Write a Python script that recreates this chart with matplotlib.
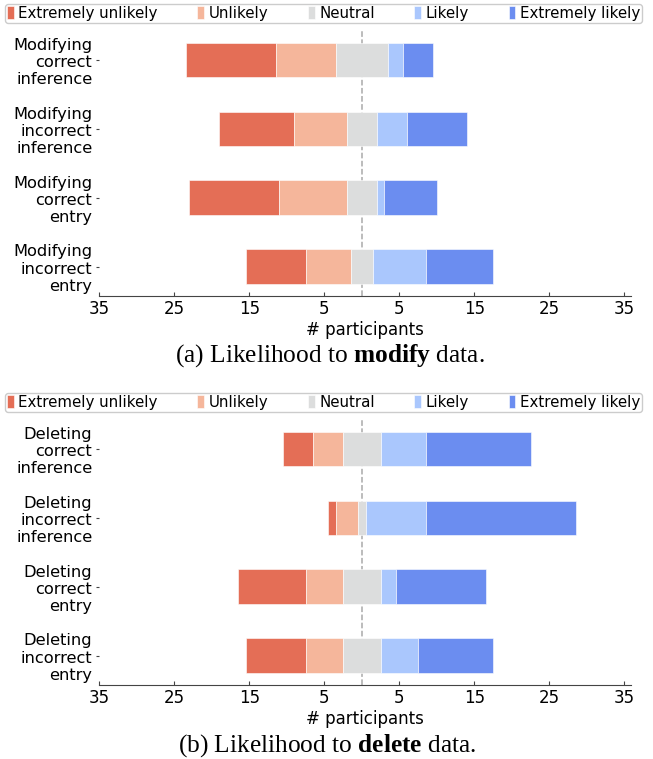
import numpy as np
import matplotlib.pyplot as plt

plt.rcParams['mathtext.fontset'] = 'custom'
plt.rcParams['mathtext.rm'] = 'Liberation Serif'
plt.rcParams['mathtext.bf'] = 'Liberation Serif:bold'

levels = ['Extremely unlikely', 'Unlikely', 'Neutral', 'Likely', 'Extremely likely']
colors = ['#e46e56', '#f5b69b', '#dcdddd', '#aac7fd', '#6b8df0']

# panel (a): modify
modify_labels = ['Modifying\ncorrect\ninference', 'Modifying\nincorrect\ninference',
                 'Modifying\ncorrect\nentry', 'Modifying\nincorrect\nentry']
modify_ext_unlikely = [12, 10, 12, 8]
modify_unlikely = [8, 7, 9, 6]
modify_neutral = [7, 4, 4, 3]
modify_likely = [2, 4, 1, 7]
modify_ext_likely = [4, 8, 7, 9]

# panel (b): delete
delete_labels = ['Deleting\ncorrect\ninference', 'Deleting\nincorrect\ninference',
                 'Deleting\ncorrect\nentry', 'Deleting\nincorrect\nentry']
delete_ext_unlikely = [4, 1, 9, 8]
delete_unlikely = [4, 3, 5, 5]
delete_neutral = [5, 1, 5, 5]
delete_likely = [6, 8, 2, 5]
delete_ext_likely = [14, 20, 12, 10]

ticks = [-35, -25, -15, -5, 5, 15, 25, 35]


def likert(ax, labels, series):
    counts = np.array(series, dtype=float).T  # rows x levels
    y = np.arange(len(labels))
    start = -(counts[:, 0] + counts[:, 1] + counts[:, 2] / 2)
    for i in range(counts.shape[1]):
        ax.barh(y, counts[:, i], left=start, height=0.5, color=colors[i],
                edgecolor='white', linewidth=0.4, label=levels[i])
        start = start + counts[:, i]
    ax.axvline(0, color='#aaaaaa', linestyle='--', linewidth=1.1, zorder=0)
    ax.set_yticks(y)
    ax.set_yticklabels(labels, fontsize=11.7, ha='right', linespacing=1.2)
    ax.invert_yaxis()
    ax.set_xlim(-35, 35.85)
    ax.set_xticks(ticks)
    ax.set_xticklabels([str(abs(t)) for t in ticks], fontsize=12)
    ax.set_xlabel('# participants', fontsize=12, labelpad=2)
    for s in ['top', 'right', 'left']:
        ax.spines[s].set_visible(False)
    ax.spines['bottom'].set_color('#444444')
    ax.tick_params(axis='x', direction='in', length=3, pad=3, color='#444444')
    ax.tick_params(axis='y', length=2, pad=3, color='#444444')


fig = plt.figure(figsize=(6.53, 7.59), dpi=100)
left = 99.3 / 653
width = (630.7 - 99.3) / 653
h = 265.5 / 759
ax1 = fig.add_axes([left, 1 - 296 / 759, width, h])
ax2 = fig.add_axes([left, 1 - 685 / 759, width, h])

likert(ax1, modify_labels, [modify_ext_unlikely, modify_unlikely, modify_neutral,
                            modify_likely, modify_ext_likely])
likert(ax2, delete_labels, [delete_ext_unlikely, delete_unlikely, delete_neutral,
                            delete_likely, delete_ext_likely])

for ax, ytop in [(ax1, 1 - 4 / 759), (ax2, 1 - 393 / 759)]:
    handles, labs = ax.get_legend_handles_labels()
    fig.legend(handles, labs, loc='upper left',
               bbox_to_anchor=(5 / 653, ytop - 18 / 759, 637 / 653, 18 / 759),
               mode='expand', ncol=5, fontsize=10.8, handlelength=0.45,
               handleheight=0.9, handletextpad=0.3, borderpad=0.12,
               borderaxespad=0, fancybox=True, framealpha=1, edgecolor='#cccccc')

fig.text(330 / 653, 1 - 356 / 759, r'(a) Likelihood to $\mathbf{modify}$ data.',
         ha='center', va='center', fontsize=18.3, family='Liberation Serif')
fig.text(327.5 / 653, 1 - 746 / 759, r'(b) Likelihood to $\mathbf{delete}$ data.',
         ha='center', va='center', fontsize=18.3, family='Liberation Serif')

fig.savefig('out.png', dpi=100)
